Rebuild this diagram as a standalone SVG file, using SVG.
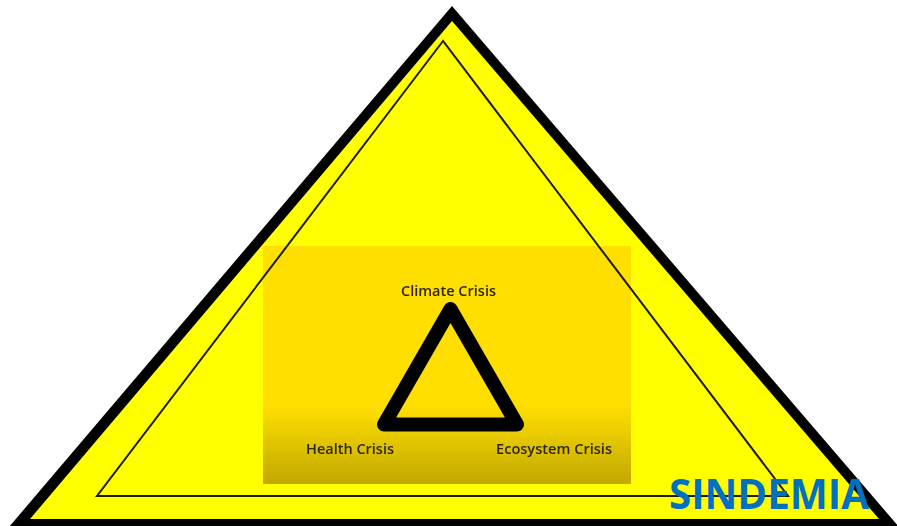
<svg xmlns="http://www.w3.org/2000/svg" width="897" height="526" viewBox="0 0 897 526">
  <defs>
    <linearGradient id="panel" x1="0" y1="246" x2="0" y2="484" gradientUnits="userSpaceOnUse">
      <stop offset="0" stop-color="#FFDF00"/>
      <stop offset="0.67" stop-color="#FFDF00"/>
      <stop offset="1" stop-color="#C2A800"/>
    </linearGradient>
    <filter id="soft" filterUnits="userSpaceOnUse" x="0" y="0" width="897" height="526"><feGaussianBlur stdDeviation="0.6"/></filter>
  </defs>
  <style>
    .label { font-family: "Open Sans", "Noto Sans", sans-serif; font-size: 15px; font-weight: 600; fill: #2e2700; filter: url(#soft); }
    .title { font-family: "Open Sans", "Noto Sans", sans-serif; font-size: 42px; font-weight: 700; fill: #0070C0; }
    .shape { filter: url(#soft); }
  </style>
  <rect width="897" height="526" fill="#FFFFFF"/>
  <g id="outer-triangle" class="shape">
    <polygon points="452,6 9,527 899,527" fill="#000000"/>
    <polygon points="452,21 30,519 879,519" fill="#FFFF00"/>
  </g>
  <g id="panel-box">
    <rect x="263" y="246" width="368" height="238" fill="url(#panel)"/>
  </g>
  <g id="inner-triangle" class="shape">
    <polygon points="443,41 97,496 788,496" fill="none" stroke="#1f1f00" stroke-width="2"/>
  </g>
  <g id="crisis-triangle" class="shape">
    <polygon points="450.5,309 384,424.5 517,424.5" fill="none" stroke="#000000" stroke-width="14" stroke-linejoin="round"/>
  </g>
  <g id="climate-crisis"><text class="label" x="401" y="296" textLength="95" lengthAdjust="spacingAndGlyphs">Climate Crisis</text></g>
  <g id="health-crisis"><text class="label" x="306" y="454" textLength="88" lengthAdjust="spacingAndGlyphs">Health Crisis</text></g>
  <g id="ecosystem-crisis"><text class="label" x="496" y="454" textLength="116" lengthAdjust="spacingAndGlyphs">Ecosystem Crisis</text></g>
  <g id="sindemia"><text class="title" x="669" y="509" textLength="200" lengthAdjust="spacingAndGlyphs">SINDEMIA</text></g>
</svg>
